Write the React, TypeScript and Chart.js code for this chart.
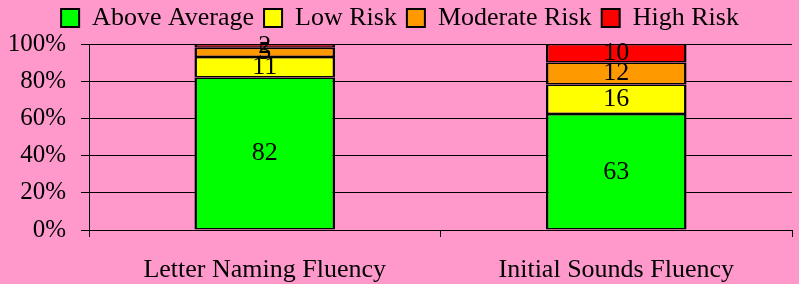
import React, { useEffect, useRef } from "react";
import { Chart, registerables } from "chart.js";

Chart.register(...registerables);

const categories = ["Letter Naming Fluency", "Initial Sounds Fluency"];
const seriesNames = ["Above Average", "Low Risk", "Moderate Risk", "High Risk"];
const aboveAverage = [82, 63];
const lowRisk = [11, 16];
const moderateRisk = [5, 12];
const highRisk = [2, 10];
const seriesColors = ["#00FF00", "#FFFF00", "#FF9900", "#FF0000"];
const yTickValues = [0, 20, 40, 60, 80, 100];

const FONT = "'Liberation Serif', 'Times New Roman', serif";

export default function App() {
  const ref = useRef<HTMLCanvasElement | null>(null);

  useEffect(() => {
    if (!ref.current) return;
    const series = [aboveAverage, lowRisk, moderateRisk, highRisk];
    const totals = categories.map((_, i) => series.reduce((s, arr) => s + arr[i], 0));

    const labelPlugin = {
      id: "segLabels",
      afterDatasetsDraw(chart: any) {
        const ctx = chart.ctx;
        ctx.save();
        ctx.font = `26px ${FONT}`;
        ctx.fillStyle = "#000";
        ctx.textAlign = "center";
        ctx.textBaseline = "middle";
        chart.data.datasets.forEach((ds: any, di: number) => {
          const meta = chart.getDatasetMeta(di);
          meta.data.forEach((bar: any, i: number) => {
            const cy = (bar.y + bar.base) / 2;
            ctx.fillText(String(ds.rawValues[i]), bar.x, cy);
          });
        });
        ctx.restore();
      },
    };

    const legendSpacer = {
      id: "legendSpacer",
      beforeInit(chart: any) {
        const legend = chart.legend;
        if (!legend) return;
        const origFit = legend.fit;
        legend.fit = function () {
          origFit.call(this);
          this.height -= 2;
        };
      },
      afterLayout(chart: any) {
        const legend = chart.legend;
        if (!legend) return;
        legend.top -= 5;
        legend.bottom -= 5;
      },
    };

    const chart = new Chart(ref.current, {
      type: "bar",
      data: {
        labels: categories,
        datasets: series.map((arr, si) => ({
          label: seriesNames[si],
          data: arr.map((v, i) => (v / totals[i]) * 100),
          rawValues: arr,
          backgroundColor: seriesColors[si],
          borderColor: "#000",
          borderWidth: { top: 1.5, bottom: 1.5, left: 2.5, right: 2.5 },
          borderSkipped: false,
          barPercentage: 0.4,
          categoryPercentage: 1,
        })) as any,
      },
      options: {
        animation: false,
        responsive: false,
        maintainAspectRatio: false,
        layout: { padding: { left: 8, right: 7, top: 0, bottom: 0 } },
        plugins: {
          legend: {
            display: true,
            position: "top",
            labels: {
              boxWidth: 18,
              boxHeight: 18,
              color: "#000",
              padding: 10,
              font: { family: FONT, size: 26 },
            },
          },
          tooltip: { enabled: false },
        },
        scales: {
          x: {
            stacked: true,
            afterFit(axis: any) {
              axis.height = 54;
            },
            grid: {
              drawOnChartArea: false,
              drawTicks: true,
              tickLength: 7,
              color: "#000",
              offset: true,
            },
            border: { display: true, color: "#000" },
            ticks: {
              color: "#000",
              padding: 18,
              font: { family: FONT, size: 26 },
            },
          },
          y: {
            stacked: true,
            min: 0,
            max: 100,
            afterBuildTicks(axis: any) {
              axis.ticks = yTickValues.map((v) => ({ value: v }));
            },
            afterFit(axis: any) {
              axis.width = 81;
            },
            grid: { color: "#000", lineWidth: 1, drawTicks: true, tickLength: 8 },
            border: { display: true, color: "#000" },
            ticks: {
              color: "#000",
              padding: 15,
              font: { family: FONT, size: 25 },
              callback: (v: any) => `${v}%`,
            },
          },
        },
      },
      plugins: [labelPlugin, legendSpacer],
    });
    return () => chart.destroy();
  }, []);

  return (
    <div
      style={{
        position: "fixed",
        left: 0,
        top: 0,
        width: 799,
        height: 284,
        background: "#FF99CC",
      }}
    >
      <canvas ref={ref} width={799} height={284} style={{ display: "block" }} />
    </div>
  );
}
